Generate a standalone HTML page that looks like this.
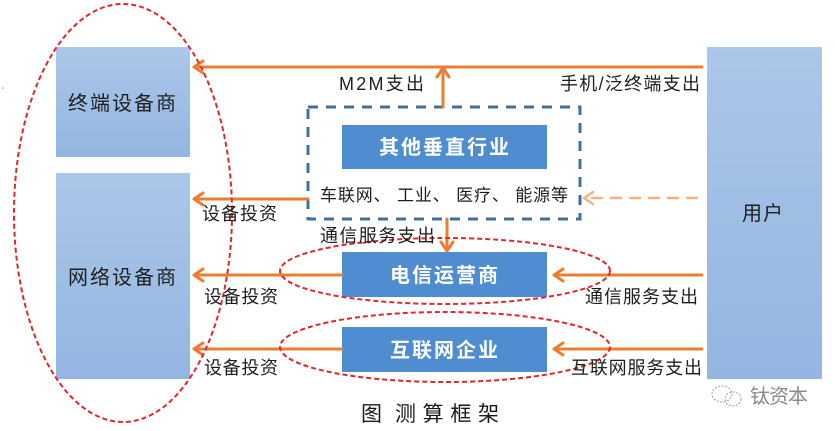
<!DOCTYPE html>
<html>
<head>
<meta charset="utf-8">
<style>
  html,body{margin:0;padding:0;background:#fff;}
  svg{display:block;}
  text{font-family:"Liberation Sans","Noto Sans CJK SC","WenQuanYi Zen Hei",sans-serif;}
</style>
</head>
<body>
<svg width="835" height="431" viewBox="0 0 835 431" xmlns="http://www.w3.org/2000/svg">
  <defs>
    <linearGradient id="lb" x1="0" y1="0" x2="0" y2="1">
      <stop offset="0" stop-color="#abc7e9"/>
      <stop offset="1" stop-color="#93b5e0"/>
    </linearGradient>
  </defs>
  <rect width="835" height="431" fill="#fff"/>
  <circle cx="3" cy="88" r="0.8" fill="#999"/>

  <!-- left boxes -->
  <rect x="56" y="47" width="134" height="110" fill="url(#lb)"/>
  <rect x="56" y="173" width="134" height="206" fill="url(#lb)"/>
  <!-- user box -->
  <rect x="707" y="47" width="115" height="332" fill="url(#lb)"/>

  <!-- dashed container -->
  <rect x="308" y="107" width="272" height="112" fill="none" stroke="#41709e" stroke-width="3" stroke-dasharray="10,8"/>

  <!-- dark boxes -->
  <rect x="342" y="125" width="205" height="44" fill="#4f8dd0"/>
  <rect x="342" y="252" width="205" height="45" fill="#4f8dd0"/>
  <rect x="342" y="327" width="205" height="45" fill="#4f8dd0"/>

  <!-- orange arrows -->
  <g stroke="#ed7d31" stroke-width="3" fill="none" stroke-linecap="round" stroke-linejoin="round">
    <line x1="195" y1="67" x2="702" y2="67"/>
    <polyline points="203,61 194,67 203,73"/>
    <line x1="443" y1="107" x2="443" y2="69"/>
    <polyline points="437,77 443,68 449,77"/>
    <line x1="195" y1="199" x2="308" y2="199"/>
    <polyline points="203,193 194,199 203,205"/>
    <line x1="447" y1="219" x2="447" y2="250"/>
    <polyline points="441,242 447,251 453,242"/>
    <line x1="195" y1="275" x2="342" y2="275"/>
    <polyline points="203,269 194,275 203,281"/>
    <line x1="555" y1="275" x2="702" y2="275"/>
    <polyline points="563,269 554,275 563,281"/>
    <line x1="195" y1="349" x2="342" y2="349"/>
    <polyline points="203,343 194,349 203,355"/>
    <line x1="555" y1="349" x2="702" y2="349"/>
    <polyline points="563,343 554,349 563,355"/>
  </g>
  <!-- light dashed orange arrow -->
  <g stroke="#f4b183" stroke-width="2.5" fill="none" stroke-linecap="round" stroke-linejoin="round">
    <line x1="592" y1="198" x2="702" y2="198" stroke-dasharray="10,9"/>
    <polyline points="593,192 584,198 593,204"/>
  </g>

  <!-- red dashed ellipses -->
  <g fill="none" stroke="#e3262b" stroke-width="2" stroke-dasharray="5,3">
    <ellipse cx="123" cy="213" rx="109" ry="209"/>
    <ellipse cx="445" cy="271" rx="165" ry="33"/>
    <ellipse cx="445" cy="347" rx="165" ry="35"/>
  </g>

  <!-- box texts -->
  <g fill="#1e1e1e" font-size="20">
    <text x="68" y="110" textLength="108" lengthAdjust="spacing">终端设备商</text>
    <text x="68" y="284" textLength="108" lengthAdjust="spacing">网络设备商</text>
    <text x="742" y="220" textLength="41" lengthAdjust="spacing">用户</text>
  </g>
  <g fill="#ffffff" font-size="20" font-weight="bold">
    <text x="379" y="154" textLength="130" lengthAdjust="spacing">其他垂直行业</text>
    <text x="390" y="282" textLength="108" lengthAdjust="spacing">电信运营商</text>
    <text x="390" y="357" textLength="108" lengthAdjust="spacing">互联网企业</text>
  </g>

  <!-- labels -->
  <g fill="#1e1e1e" font-size="18">
    <text x="339" y="90" textLength="85" lengthAdjust="spacing">M2M支出</text>
    <text x="560" y="90" textLength="140" lengthAdjust="spacing">手机/泛终端支出</text>
    <text x="320" y="201" font-size="17" textLength="248" lengthAdjust="spacing">车联网、 工业、 医疗、 能源等</text>
    <text x="202" y="220" textLength="75" lengthAdjust="spacing">设备投资</text>
    <text x="320" y="242" textLength="115" lengthAdjust="spacing">通信服务支出</text>
    <text x="204" y="303" textLength="74" lengthAdjust="spacing">设备投资</text>
    <text x="585" y="303" textLength="113" lengthAdjust="spacing">通信服务支出</text>
    <text x="204" y="374" textLength="74" lengthAdjust="spacing">设备投资</text>
    <text x="571" y="374" textLength="131" lengthAdjust="spacing">互联网服务支出</text>
  </g>

  <!-- caption -->
  <text x="361" y="421" font-size="21" fill="#1a1a1a">图</text>
  <text x="395" y="421" font-size="21" fill="#1a1a1a" textLength="104" lengthAdjust="spacing">测算框架</text>

  <!-- watermark -->
  <g fill="none" stroke="#9a9a9a" stroke-width="1" stroke-dasharray="2,1.5">
    <ellipse cx="722" cy="394" rx="10" ry="8"/>
    <ellipse cx="733" cy="399" rx="8" ry="7"/>
  </g>
  <text x="750" y="403" font-size="20" fill="#8a8a8a" textLength="58" lengthAdjust="spacing">钛资本</text>
</svg>
</body>
</html>
